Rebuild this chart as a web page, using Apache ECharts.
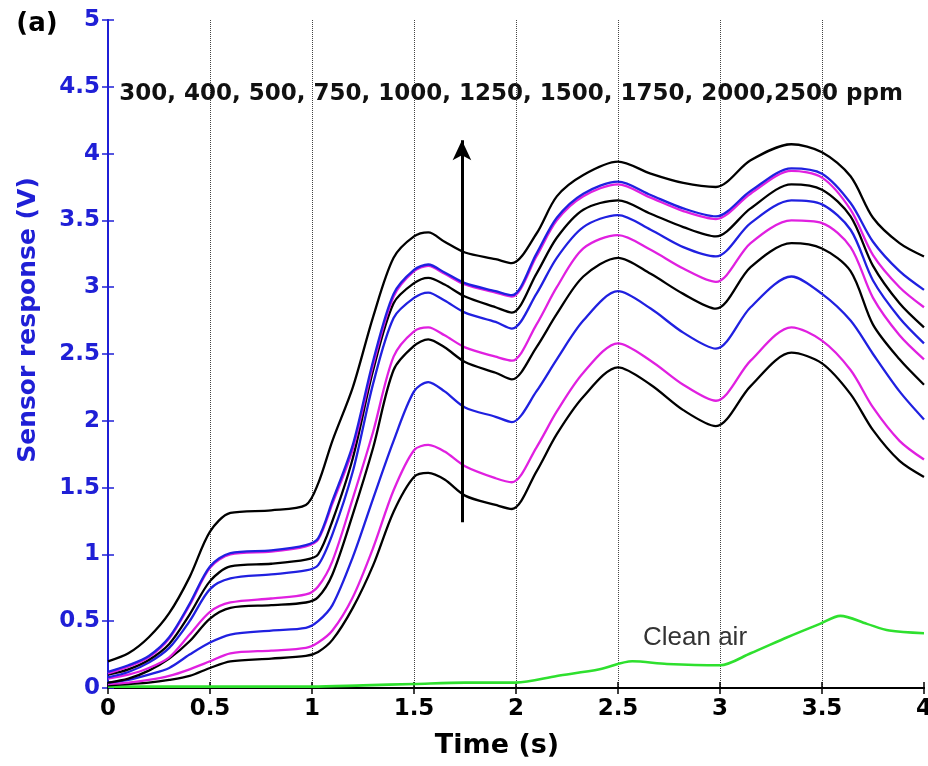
<!DOCTYPE html>
<html>
<head>
<meta charset="utf-8">
<script src="https://cdn.jsdelivr.net/npm/echarts@6/dist/echarts.min.js"></script>
<style>
  html, body { margin: 0; padding: 0; background: #fff; }
  #chart { width: 928px; height: 766px; }
</style>
</head>
<body>
<div id="chart"></div>
<script>
// Sample times (s) shared by the gas-concentration curves
const timeS = [0, 0.1, 0.2, 0.3, 0.4, 0.5, 0.6, 0.8, 0.97, 1.03, 1.1, 1.2, 1.3, 1.4, 1.5, 1.57, 1.65, 1.75, 1.9, 1.98,
               2.1, 2.2, 2.33, 2.5, 2.66, 2.82, 2.98, 3.15, 3.35, 3.5, 3.64, 3.75, 3.88, 4.0];

// Sensor response (V) for each concentration
const ppm300  = [0.02, 0.03, 0.04, 0.06, 0.09, 0.15, 0.20, 0.22, 0.24, 0.27, 0.36, 0.60, 0.92, 1.32, 1.58, 1.61, 1.56, 1.44, 1.37, 1.34,
                 1.62, 1.90, 2.18, 2.40, 2.27, 2.08, 1.96, 2.26, 2.51, 2.43, 2.20, 1.93, 1.70, 1.58];
const ppm400  = [0.03, 0.04, 0.06, 0.09, 0.14, 0.20, 0.26, 0.28, 0.30, 0.34, 0.43, 0.68, 1.05, 1.48, 1.78, 1.82, 1.77, 1.66, 1.57, 1.54,
                 1.80, 2.07, 2.36, 2.58, 2.45, 2.27, 2.15, 2.45, 2.70, 2.60, 2.38, 2.10, 1.85, 1.71];
const ppm500  = [0.04, 0.06, 0.10, 0.15, 0.25, 0.34, 0.40, 0.43, 0.45, 0.50, 0.62, 0.98, 1.42, 1.85, 2.22, 2.29, 2.22, 2.10, 2.03, 1.99,
                 2.22, 2.46, 2.75, 2.97, 2.84, 2.66, 2.54, 2.85, 3.08, 2.95, 2.75, 2.50, 2.22, 2.01];
const ppm750  = [0.04, 0.07, 0.13, 0.22, 0.35, 0.52, 0.60, 0.62, 0.64, 0.68, 0.85, 1.30, 1.80, 2.38, 2.56, 2.61, 2.55, 2.44, 2.36, 2.31,
                 2.55, 2.80, 3.08, 3.22, 3.10, 2.95, 2.84, 3.15, 3.33, 3.29, 3.12, 2.72, 2.46, 2.27];
const ppm1000 = [0.07, 0.10, 0.15, 0.23, 0.40, 0.57, 0.64, 0.67, 0.70, 0.76, 0.95, 1.42, 1.92, 2.48, 2.67, 2.70, 2.64, 2.55, 2.48, 2.45,
                 2.72, 3.00, 3.29, 3.39, 3.28, 3.14, 3.04, 3.33, 3.50, 3.48, 3.30, 2.92, 2.64, 2.46];
const ppm1250 = [0.08, 0.12, 0.19, 0.30, 0.50, 0.74, 0.82, 0.85, 0.88, 0.92, 1.15, 1.62, 2.28, 2.77, 2.92, 2.96, 2.90, 2.81, 2.74, 2.69,
                 2.95, 3.22, 3.45, 3.54, 3.43, 3.30, 3.23, 3.48, 3.65, 3.62, 3.43, 3.05, 2.77, 2.58];
const ppm1500 = [0.10, 0.14, 0.21, 0.33, 0.55, 0.80, 0.91, 0.93, 0.96, 1.00, 1.25, 1.72, 2.38, 2.88, 3.03, 3.07, 3.02, 2.93, 2.85, 2.81,
                 3.10, 3.37, 3.58, 3.65, 3.55, 3.45, 3.38, 3.59, 3.77, 3.73, 3.53, 3.16, 2.88, 2.70];
const ppm1750 = [0.11, 0.16, 0.23, 0.37, 0.62, 0.90, 1.00, 1.02, 1.06, 1.11, 1.38, 1.79, 2.42, 2.93, 3.12, 3.16, 3.10, 3.02, 2.96, 2.93,
                 3.23, 3.50, 3.68, 3.77, 3.67, 3.57, 3.51, 3.70, 3.87, 3.82, 3.58, 3.24, 3.00, 2.85];
const ppm2000 = [0.12, 0.17, 0.24, 0.38, 0.63, 0.91, 1.01, 1.03, 1.07, 1.12, 1.40, 1.82, 2.45, 2.95, 3.13, 3.17, 3.11, 3.03, 2.97, 2.94,
                 3.25, 3.52, 3.70, 3.79, 3.69, 3.59, 3.53, 3.72, 3.89, 3.85, 3.63, 3.34, 3.12, 2.98];
const ppm2500 = [0.20, 0.26, 0.38, 0.56, 0.83, 1.17, 1.31, 1.33, 1.37, 1.53, 1.85, 2.25, 2.78, 3.22, 3.38, 3.41, 3.34, 3.26, 3.21, 3.18,
                 3.40, 3.68, 3.84, 3.94, 3.85, 3.78, 3.75, 3.95, 4.07, 4.01, 3.83, 3.52, 3.33, 3.23];

// Clean air baseline
const airTimeS = [0, 0.5, 1.0, 1.25, 1.5, 1.75, 2.0, 2.2, 2.41, 2.57, 2.74, 3.0, 3.15, 3.33, 3.49, 3.59, 3.72, 3.83, 4.0];
const airResp  = [0.01, 0.01, 0.01, 0.02, 0.03, 0.04, 0.04, 0.09, 0.14, 0.20, 0.18, 0.17, 0.26, 0.38, 0.48, 0.54, 0.48, 0.43, 0.41];

const concNames = ['300', '400', '500', '750', '1000', '1250', '1500', '1750', '2000', '2500'];
const concCurves = [ppm300, ppm400, ppm500, ppm750, ppm1000, ppm1250, ppm1500, ppm1750, ppm2000, ppm2500];

// Increasing-concentration arrow (time, response)
const arrowFrom = [1.735, 1.24];
const arrowTo = [1.735, 4.10];

const BLACK = '#000000', MAGENTA = '#e020e0', BLUE = '#2020e0';
const curveColors = [BLACK, MAGENTA, BLUE, BLACK, MAGENTA, BLUE, BLACK, MAGENTA, BLUE, BLACK];
const AXIS_BLUE = '#1f1fd6';
const BOLD = 'bold 23px "DejaVu Sans"';

const series = concCurves.map((vals, k) => ({
  name: concNames[k] + ' ppm',
  type: 'line',
  data: timeS.map((t, i) => [t, vals[i]]),
  showSymbol: false,
  smooth: 0.3,
  lineStyle: { color: curveColors[k], width: 2.3 },
  z: 3 + k * 0.01
}));

series.push({
  name: 'Clean air',
  type: 'line',
  data: airTimeS.map((t, i) => [t, airResp[i]]),
  showSymbol: false,
  smooth: 0.3,
  lineStyle: { color: '#2ee02e', width: 2.6 },
  z: 2
});

series.push({
  name: 'arrow',
  type: 'line',
  data: [],
  markLine: {
    silent: true,
    symbol: ['none', 'arrow'],
    symbolSize: [14, 20],
    label: { show: false },
    lineStyle: { color: '#000', width: 3, type: 'solid' },
    data: [[{ coord: arrowFrom }, { coord: arrowTo }]]
  }
});

const chart = echarts.init(document.getElementById('chart'), null, { renderer: 'canvas' });
chart.setOption({
  animation: false,
  backgroundColor: '#ffffff',
  grid: { left: 108, right: 4, top: 20, bottom: 78, containLabel: false, outerBoundsMode: 'none' },
  xAxis: [
    {
      type: 'value', min: 0, max: 4, interval: 0.5, position: 'bottom',
      axisLine: { lineStyle: { color: '#000', width: 2 } },
      axisTick: { inside: true, length: 6, lineStyle: { color: '#000', width: 1.5 } },
      axisLabel: { color: '#000', fontFamily: 'DejaVu Sans', fontWeight: 'bold', fontSize: 23, margin: 10 },
      splitLine: { show: true, showMinLine: false, showMaxLine: false,
                   lineStyle: { type: 'dotted', color: '#444', width: 1 } }
    },
    {
      type: 'value', min: 0, max: 4, interval: 0.5, position: 'top',
      axisLine: { lineStyle: { color: '#000', width: 2 } },
      axisTick: { inside: true, length: 6, lineStyle: { color: '#000', width: 1.5 } },
      axisLabel: { show: false },
      splitLine: { show: false }
    }
  ],
  yAxis: [
    {
      type: 'value', min: 0, max: 5, interval: 0.5, position: 'left',
      axisLine: { show: true, lineStyle: { color: AXIS_BLUE, width: 2 } },
      axisTick: { show: true, inside: true, length: 6, lineStyle: { color: AXIS_BLUE, width: 1.5 } },
      axisLabel: { color: AXIS_BLUE, fontFamily: 'DejaVu Sans', fontWeight: 'bold', fontSize: 23, margin: 8 },
      splitLine: { show: false }
    },
    {
      type: 'value', min: 0, max: 5, interval: 0.5, position: 'right',
      axisLine: { show: true, lineStyle: { color: AXIS_BLUE, width: 2 } },
      axisTick: { show: true, inside: true, length: 6, lineStyle: { color: AXIS_BLUE, width: 1.5 } },
      axisLabel: { show: false },
      splitLine: { show: false }
    }
  ],
  graphic: [
    { type: 'text', x: 37, y: 24, style: { text: '(a)', font: 'bold 26px "DejaVu Sans"', fill: '#000', textAlign: 'center', textVerticalAlign: 'middle' } },
    { type: 'text', x: 511, y: 94, z: 10,
      style: { text: '300, 400, 500, 750, 1000, 1250, 1500, 1750, 2000,2500 ppm', font: BOLD, fill: '#111',
               textAlign: 'center', textVerticalAlign: 'middle' } },
    { type: 'text', x: 28, y: 320, rotation: Math.PI / 2,
      style: { text: 'Sensor response (V)', font: 'bold 25px "DejaVu Sans"', fill: AXIS_BLUE, textAlign: 'center', textVerticalAlign: 'middle' } },
    { type: 'text', x: 497, y: 746,
      style: { text: 'Time (s)', font: 'bold 27px "DejaVu Sans"', fill: '#000', textAlign: 'center', textVerticalAlign: 'middle' } },
    { type: 'text', x: 643, y: 638,
      style: { text: 'Clean air', font: '26px "Liberation Sans"', fill: '#333', textAlign: 'left', textVerticalAlign: 'middle' } }
  ],
  series: series
});
</script>
</body>
</html>
